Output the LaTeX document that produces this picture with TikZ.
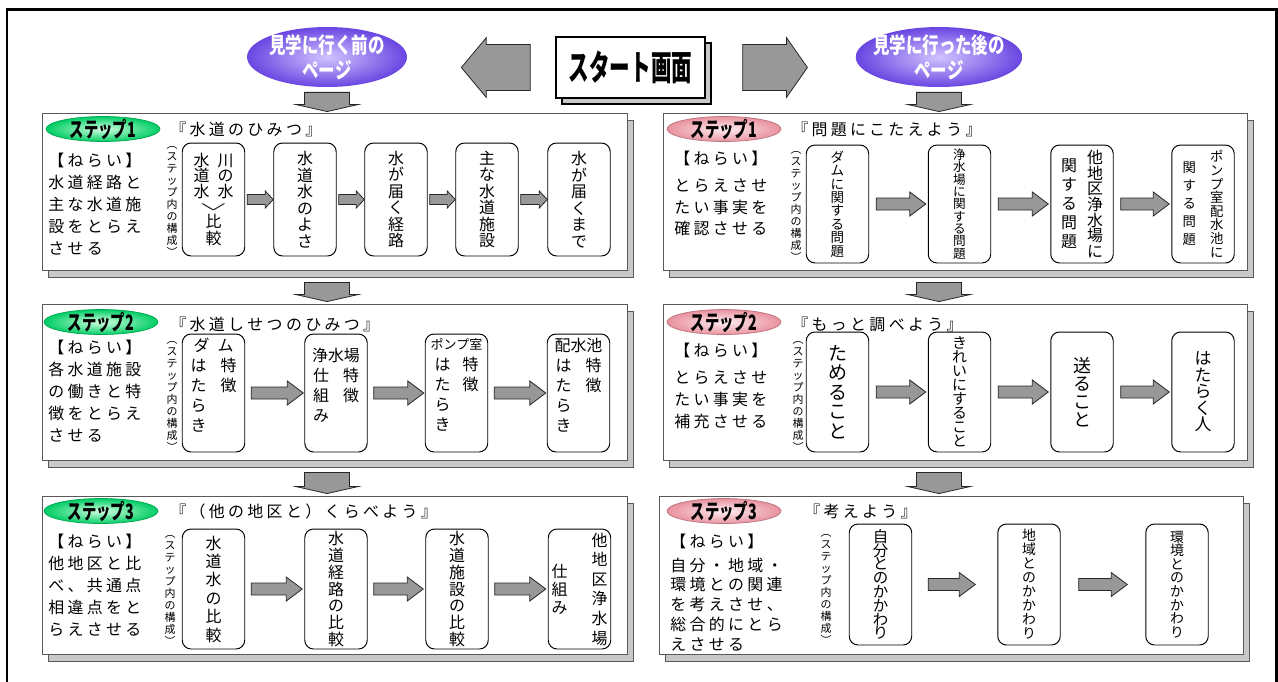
\documentclass[tikz,border=0pt]{standalone}
\usepackage{fontspec}
\usepackage{graphicx}
\usetikzlibrary{calc,fit,positioning,shapes.geometric,shadows}

\newfontfamily\jp{Noto Sans CJK JP}
\newfontfamily\jpls[LetterSpace=21]{Noto Sans CJK JP}

\definecolor{arrowgray}{RGB}{152,152,152}
\definecolor{shadowgray}{RGB}{200,200,200}
\definecolor{greenD}{RGB}{0,205,100}
\definecolor{greenL}{RGB}{210,255,225}
\definecolor{pinkD}{RGB}{232,145,158}
\definecolor{pinkL}{RGB}{255,238,240}
\definecolor{violetD}{RGB}{105,70,225}
\definecolor{violetL}{RGB}{210,195,255}

\newdimen\pxu \pxu=0.02cm

% one column of upright characters (vertical writing)
\def\vtloop#1{\ifx\relax#1\else\hbox to 1em{\hss#1\hss}\expandafter\vtloop\fi}
\newcommand\vtext[2][17]{\vtop{\baselineskip=#1\pxu\lineskiplimit=-\maxdimen
  \edef\vtarg{#2}\expandafter\vtloop\vtarg\relax}}

% block arrow: tail, tip, tail gap, tip gap, shaft half, head half, head length (px)
\newcommand\barrow[7]{%
  \draw[blk] ($(#1)!#3*0.02cm!(#2)!#5*0.02cm!90:(#2)$)
    -- ($(#2)!#4*0.02cm+#7*0.02cm!(#1)!#5*0.02cm!90:(#2)$)
    -- ($(#2)!#4*0.02cm+#7*0.02cm!(#1)!#6*0.02cm!90:(#2)$)
    -- ($(#2)!#4*0.02cm!(#1)$)
    -- ($(#2)!#4*0.02cm+#7*0.02cm!(#1)!#6*0.02cm!-90:(#2)$)
    -- ($(#2)!#4*0.02cm+#7*0.02cm!(#1)!#5*0.02cm!-90:(#2)$)
    -- ($(#1)!#3*0.02cm!(#2)!#5*0.02cm!-90:(#2)$) -- cycle;}

\tikzset{
  panel/.style={draw=black!65, line width=0.5pt, fill=white, inner sep=0pt,
    general shadow={fill=shadowgray, draw=black!65, shadow xshift=3.4pt, shadow yshift=-4pt}},
  bx/.style={draw, line width=0.55pt, rounded corners=5pt, fill=white,
    minimum width=1.25cm, inner sep=0pt, align=center,
    font=\jp\fontsize{9.07}{10}\selectfont},
  blk/.style={draw=black!85, line width=0.45pt, fill=arrowgray},
  aim/.style={font=\jpls\fontsize{9.07}{12.47}\selectfont, align=left,
    inner sep=0pt, anchor=west},
  ttl/.style={font=\jpls\fontsize{9.07}{11}\selectfont, inner sep=0pt, anchor=west},
  lbl/.style={font=\jp\fontsize{6.24}{7}\selectfont, inner sep=0pt},
  pill/.style={ellipse, minimum width=2.28cm, minimum height=0.5cm, inner sep=-2pt,
    line width=0.4pt, font=\jp\bfseries\fontsize{12}{13}\selectfont},
  pillG/.style={pill, draw=greenD!80!black, inner color=greenL, outer color=greenD},
  pillP/.style={pill, draw=pinkD!80!black, inner color=pinkL, outer color=pinkD},
  ell/.style={ellipse, minimum width=3.2cm, minimum height=1.2cm,
    inner xsep=-4pt, inner ysep=-1.5pt, inner color=violetL, outer color=violetD,
    text=white, align=center, font=\jp\bfseries\fontsize{12.5}{14}\selectfont},
  startbox/.style={draw, line width=0.8pt, fill=white, minimum width=2.98cm,
    minimum height=1.22cm, font=\jp\bfseries\fontsize{18}{20}\selectfont,
    general shadow={fill=shadowgray, draw=black, shadow xshift=3.4pt, shadow yshift=-3.4pt}},
}

\begin{document}
\begin{tikzpicture}[x=0.02cm, y=-0.02cm]
\useasboundingbox (0,0) rectangle (1278,681);

% outer frame
\draw[line width=1.7pt] (7,700) -- (7,9) -- (1276,9) -- (1276,700);

% header
\node[startbox] (start) at (630.5,67.5) {\scalebox{0.65}[1.1]{スタート画面}};
\node[ell] (ellL) at (327,57)
  {\scalebox{0.75}[1]{見学に行く前の}\\\scalebox{0.75}[1]{ページ}};
\node[ell, minimum width=3.32cm] (ellR) at (939,57)
  {\scalebox{0.75}[1]{見学に行った後の}\\\scalebox{0.75}[1]{ページ}};
\barrow{start.west}{ellL.east|-start.west}{25}{54}{23}{30}{25}
\barrow{start.east}{ellR.west|-start.west}{37}{48}{23}{30}{21}

% left column, step 1
\begin{scope}[shift={(42,113)}]
  \node[panel, fit={(0,0) (585,157)}] (L1) {};
  \node[pillG] (L1p) at (61,16) {\scalebox{0.68}[1]{ステップ1}};
  \node[ttl] (L1t) at (128,16) {『水道のひみつ』};
  \node[aim] (L1a) at (6,91) {【ねらい】\\水道経路と\\主な水道施\\設をとらえ\\させる};
  \node[lbl] (L1l) at (130,88) {\vtext[12]{︵ステップ内の構成︶}};
  \node[bx, minimum height=2.26cm] (L1b1) at (171.5,86.5)
    {\vtext[15.5]{水道水}\hskip8\pxu\vtext[15.5]{川の水}\\[4\pxu]\scalebox{2.6}[0.7]{$\vee$}\\[0\pxu]\vtext[17]{比較}};
  \foreach \i/\x/\t in {2/263/水道水のよさ, 3/354/水が届く経路, 4/445/主な水道施設, 5/537/水が届くまで}
    \node[bx, minimum height=2.26cm] (L1b\i) at (\x,86.5) {\vtext[16.5]{\t}};
  \foreach \i in {1,...,4} {
    \pgfmathtruncatemacro\j{\i+1}
    \barrow{L1b\i.east}{L1b\j.west}{2}{0}{5}{8.5}{8}
  }
\end{scope}

% left column, step 2
\begin{scope}[shift={(42,304)}]
  \node[panel, fit={(0,0) (585,156)}] (L2) {};
  \node[pillG] (L2p) at (59,18) {\scalebox{0.68}[1]{ステップ2}};
  \node[ttl] (L2t) at (128,20) {『水道しせつのひみつ』};
  \node[aim] (L2a) at (6,87) {【ねらい】\\各水道施設\\の働きと特\\徴をとらえ\\させる};
  \node[lbl] (L2l) at (130,92) {\vtext[12]{︵ステップ内の構成︶}};
  \node[bx, minimum height=2.36cm] (L2b1) at (171.5,89)
    {ダ\hskip8\pxu ム\\[3\pxu]\vtext[20]{はたらき}\hskip14\pxu\vtext[20]{特徴}\\[14\pxu]\mbox{}};
  \node[bx, minimum height=2.36cm] (L2b2) at (294,89)
    {浄水場\\[3\pxu]\vtext[20]{仕組み}\hskip14\pxu\vtext[20]{特徴}\\[14\pxu]\mbox{}};
  \node[bx, minimum height=2.36cm] (L2b3) at (414.5,89)
    {{\fontsize{7.4}{10}\selectfont ポンプ室}\\[3\pxu]\vtext[20]{はたらき}\hskip12\pxu\vtext[20]{特徴}\\[14\pxu]\mbox{}};
  \node[bx, minimum height=2.36cm] (L2b4) at (536.5,89)
    {配水池\\[3\pxu]\vtext[20]{はたらき}\hskip14\pxu\vtext[20]{特徴}\\[14\pxu]\mbox{}};
  \foreach \i in {1,...,3} {
    \pgfmathtruncatemacro\j{\i+1}
    \barrow{L2b\i.east}{L2b\j.west}{6}{1}{6}{12}{16}
  }
\end{scope}

% left column, step 3
\begin{scope}[shift={(42,496)}]
  \node[panel, fit={(0,0) (585,158)}] (L3) {};
  \node[pillG] (L3p) at (59,15) {\scalebox{0.68}[1]{ステップ3}};
  \node[ttl] (L3t) at (128,15) {『（他の地区と）くらべよう』};
  \node[aim] (L3a) at (6,89.5) {【ねらい】\\他地区と比\\べ、共通点\\相違点をと\\らえさせる};
  \node[lbl] (L3l) at (128,94) {\vtext[12]{︵ステップ内の構成︶}};
  \foreach \i/\x/\p/\t in {1/171.5/18.4/水道水の比較, 2/294/16.8/水道経路の比較, 3/415/16.8/水道施設の比較}
    \node[bx, minimum height=2.4cm] (L3b\i) at (\x,93) {\vtext[\p]{\t}};
  \node[bx, minimum height=2.4cm] (L3b4) at (537.5,93)
    {$\vcenter{\vtext[18]{仕組み}}$\hskip24\pxu$\vcenter{\vtext[19.6]{他地区浄水場}}$};
  \foreach \i in {1,...,3} {
    \pgfmathtruncatemacro\j{\i+1}
    \barrow{L3b\i.east}{L3b\j.west}{6}{2}{6}{12}{16}
  }
\end{scope}

% right column, step 1
\begin{scope}[shift={(663,113)}]
  \node[panel, fit={(0,0) (584,157)}] (R1) {};
  \node[pillP] (R1p) at (61,16) {\scalebox{0.68}[1]{ステップ1}};
  \node[ttl] (R1t) at (129,16) {『問題にこたえよう』};
  \node[aim] (R1a) at (11,80.5) {【ねらい】\\[5\pxu]とらえさせ\\たい事実を\\確認させる};
  \node[lbl] (R1l) at (133,93) {\vtext[12]{︵ステップ内の構成︶}};
  \node[bx, minimum height=2.36cm, font=\jp\fontsize{7.7}{10}\selectfont] (R1b1) at (174.5,91)
    {\vtext[13.4]{ダムに関する問題}};
  \node[bx, minimum height=2.36cm, font=\jp\fontsize{7.2}{9}\selectfont] (R1b2) at (296.5,91)
    {\vtext[12.3]{浄水場に関する問題}};
  \node[bx, minimum height=2.36cm] (R1b3) at (419,91)
    {$\vcenter{\vtext[19]{関する問題}}$\hskip10\pxu$\vcenter{\vtext[15.6]{他地区浄水場に}}$};
  \node[bx, minimum height=2.36cm, font=\jp\fontsize{7.6}{10}\selectfont] (R1b4) at (540,91)
    {$\vcenter{\vtext[18]{関する問題}}$\hskip14\pxu$\vcenter{\vtext[13.6]{ポンプ室配水池に}}$};
  \foreach \i in {1,...,3} {
    \pgfmathtruncatemacro\j{\i+1}
    \barrow{R1b\i.east}{R1b\j.west}{7}{2}{6}{12}{16}
  }
\end{scope}

% right column, step 2
\begin{scope}[shift={(663,304)}]
  \node[panel, fit={(0,0) (584,156)}] (R2) {};
  \node[pillP] (R2p) at (61,18) {\scalebox{0.68}[1]{ステップ2}};
  \node[ttl] (R2t) at (129,20) {『もっと調べよう』};
  \node[aim] (R2a) at (11,82) {【ねらい】\\[5\pxu]とらえさせ\\たい事実を\\補充させる};
  \node[lbl] (R2l) at (135,92) {\vtext[12]{︵ステップ内の構成︶}};
  \node[bx, minimum height=2.4cm, font=\jp\fontsize{10.8}{12}\selectfont] (R2b1) at (174.5,88)
    {\vtext[19.5]{ためること}};
  \node[bx, minimum height=2.4cm, font=\jp\fontsize{8.5}{10}\selectfont] (R2b2) at (296.5,88)
    {\vtext[14]{きれいにすること}};
  \node[bx, minimum height=2.4cm, font=\jp\fontsize{10.2}{12}\selectfont] (R2b3) at (419,88)
    {\vtext[18]{送ること}};
  \node[bx, minimum height=2.4cm, font=\jp\fontsize{9.6}{11}\selectfont] (R2b4) at (540,88)
    {\vtext[16.5]{はたらく人}};
  \foreach \i in {1,...,3} {
    \pgfmathtruncatemacro\j{\i+1}
    \barrow{R2b\i.east}{R2b\j.west}{7}{2}{6}{12}{16}
  }
\end{scope}

% right column, step 3
\begin{scope}[shift={(659,496)}]
  \node[panel, fit={(0,0) (584,158)}] (R3) {};
  \node[pillP] (R3p) at (65,15) {\scalebox{0.68}[1]{ステップ3}};
  \node[ttl] (R3t) at (145,15) {『考えよう』};
  \node[aim, font=\jpls\fontsize{9.07}{11.34}\selectfont] (R3a) at (11,96.5)
    {【ねらい】\\[4\pxu]自分・地域・\\環境との関連\\を考えさせ、\\総合的にとら\\えさせる};
  \node[lbl] (R3l) at (167,93) {\vtext[12]{︵ステップ内の構成︶}};
  \node[bx, minimum height=2.42cm, font=\jp\fontsize{8.8}{11}\selectfont] (R3b1) at (221.5,88.5)
    {\vtext[13.8]{自分とのかかわり}};
  \node[bx, minimum height=2.42cm, font=\jp\fontsize{7.9}{9}\selectfont] (R3b2) at (370,88.5)
    {\vtext[14]{地域とのかかわり}};
  \node[bx, minimum height=2.42cm, font=\jp\fontsize{7.9}{9}\selectfont] (R3b3) at (518,88.5)
    {\vtext[13.6]{環境とのかかわり}};
  \barrow{R3b1.east}{R3b2.west}{16}{22}{6}{12}{16}
  \barrow{R3b2.east}{R3b3.west}{18}{18}{6}{12}{16}
\end{scope}

% down arrows between the steps
\foreach \col/\e in {L/ellL, R/ellR} {
  \barrow{\e.south}{\e.south|-\col1.north}{5}{1}{22.5}{31}{7}
  \barrow{\e.south|-\col1.south}{\e.south|-\col2.north}{12}{2}{22.5}{31}{7}
  \barrow{\e.south|-\col2.south}{\e.south|-\col3.north}{12}{2}{22.5}{31}{7}
}

\end{tikzpicture}
\end{document}
